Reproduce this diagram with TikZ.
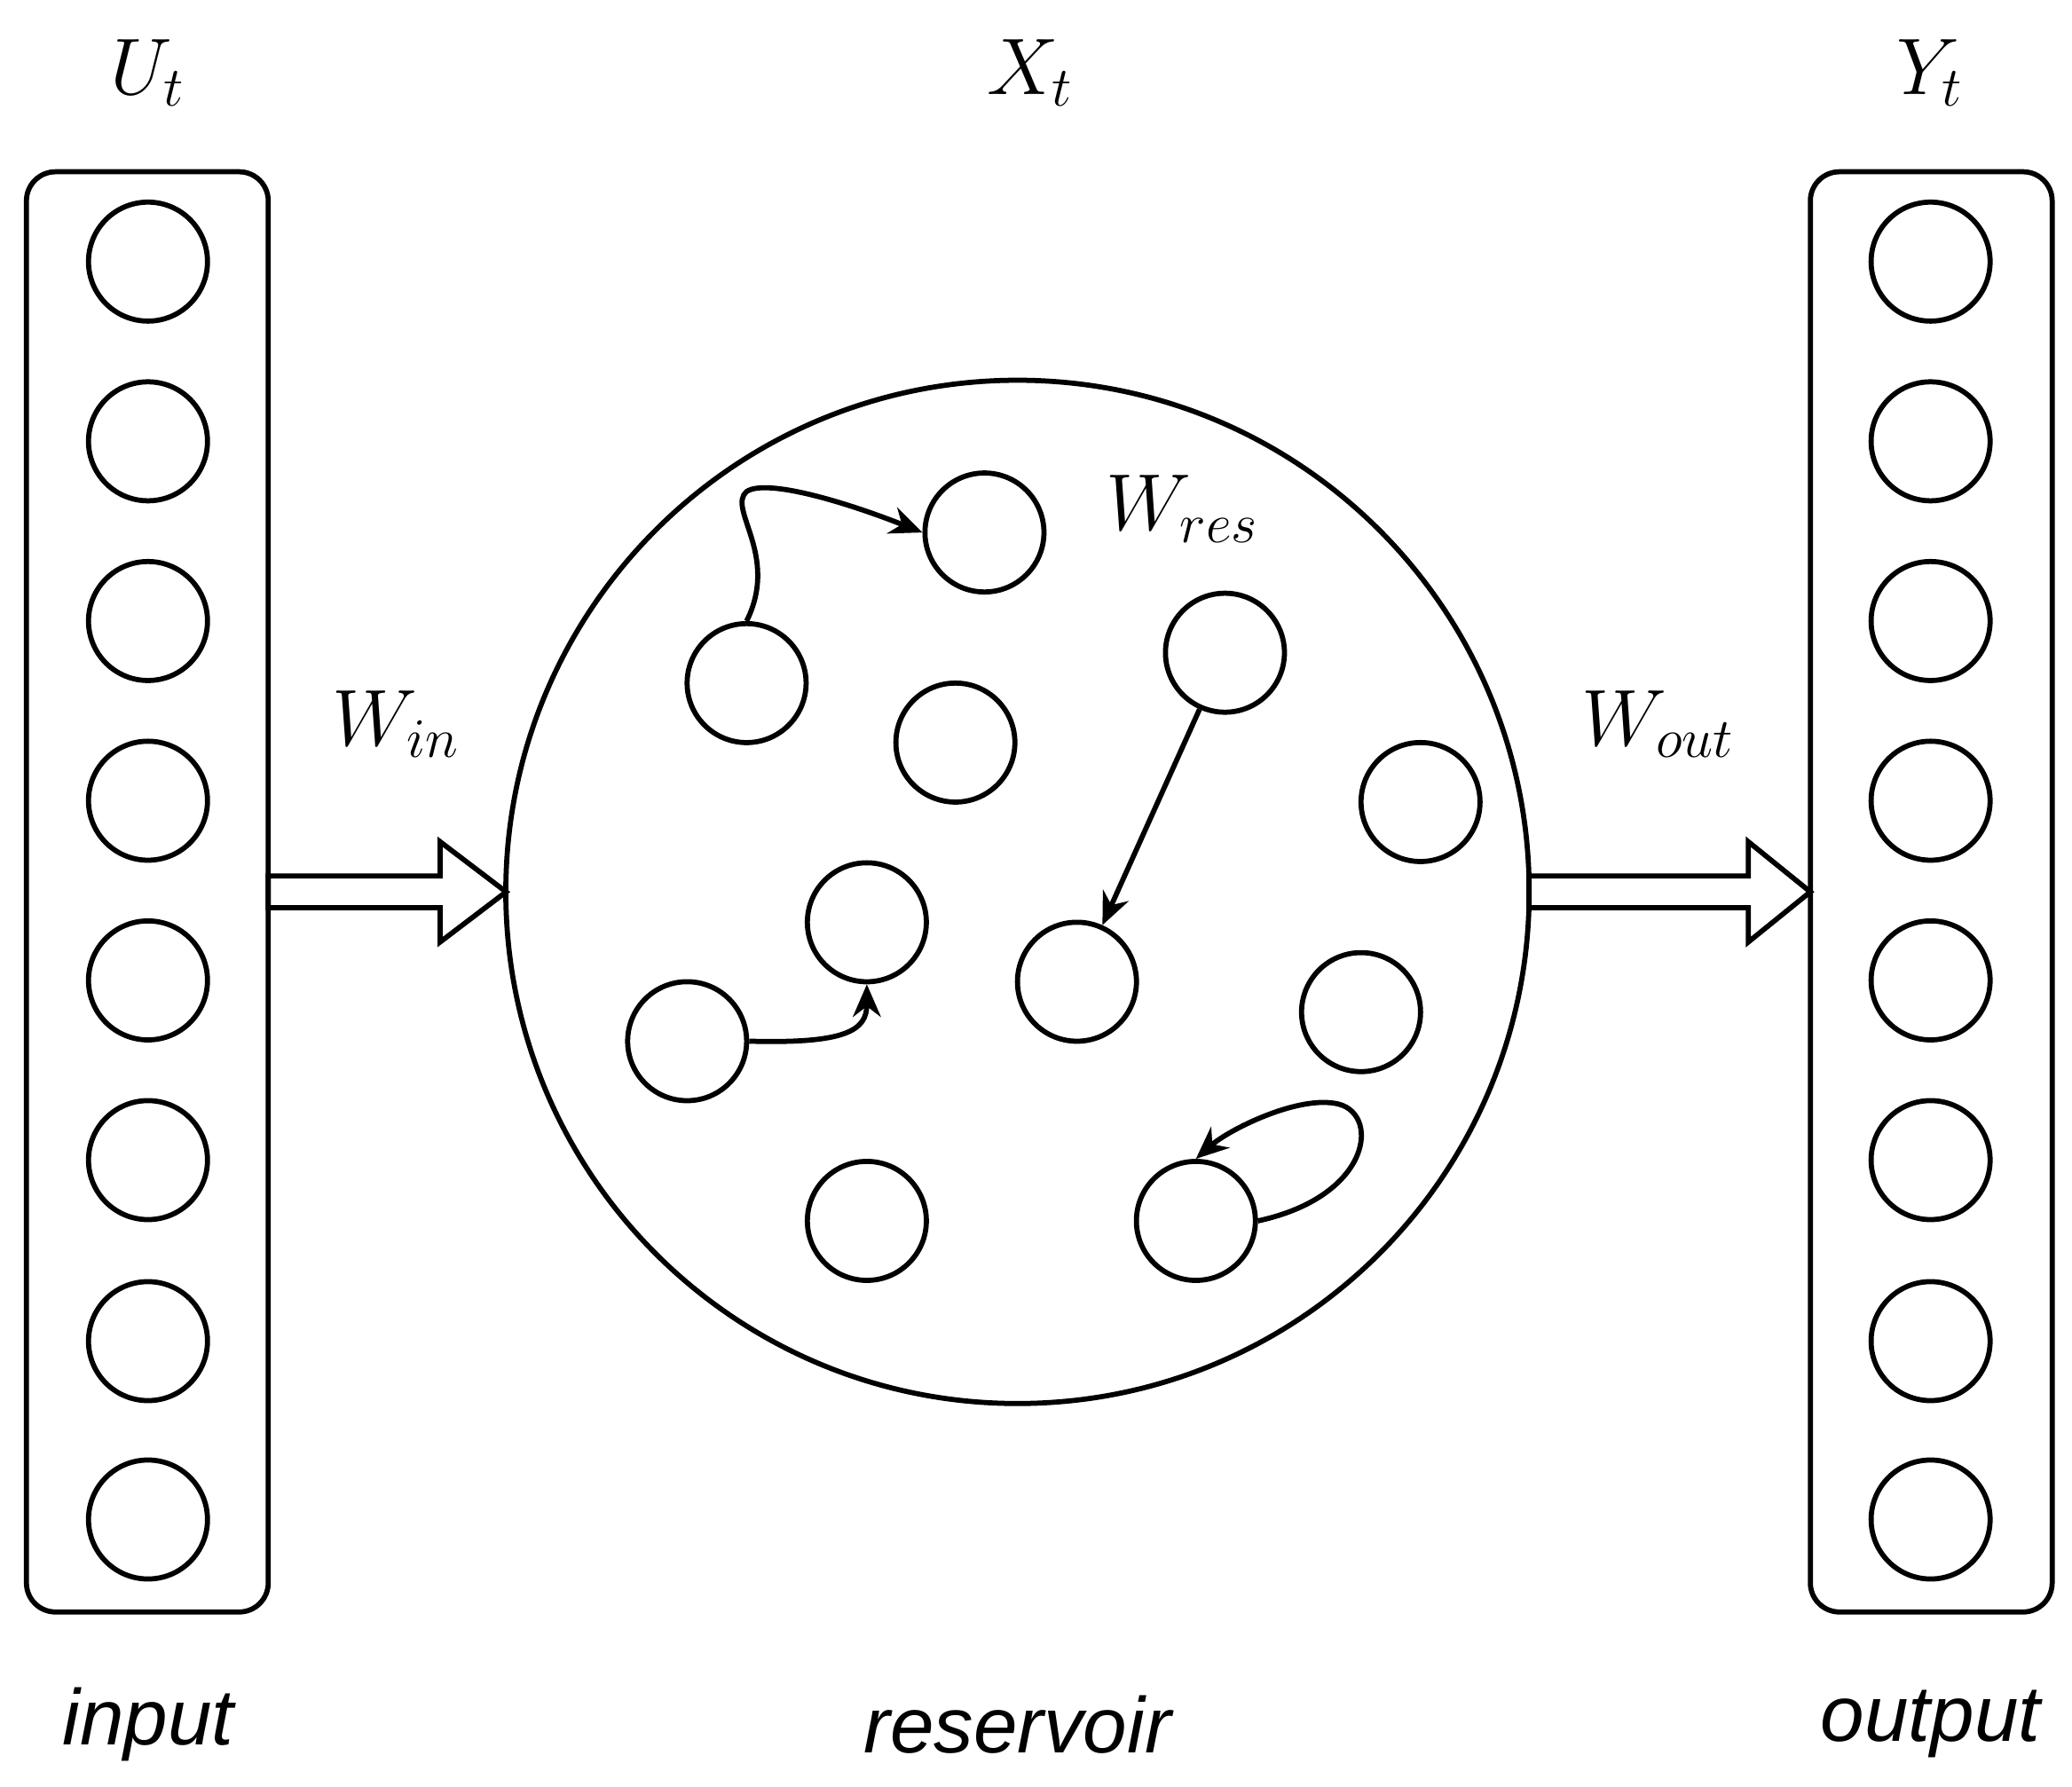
\documentclass[tikz,border=0pt]{standalone}
\usepackage{fontspec}
\newfontfamily\lab{Liberation Sans}
\usetikzlibrary{arrows.meta}
\begin{document}
\begin{tikzpicture}[x=0.01cm,y=-0.01cm,line width=1.1pt,
  neu/.style={circle,draw,minimum size=0.9cm,inner sep=0pt},
  box/.style={draw,rounded corners=0.22cm},
  mlab/.style={font=\fontsize{18}{22}\selectfont},
  tlab/.style={font=\lab\itshape\fontsize{17}{20}\selectfont},
  arr/.style={-{Stealth[length=7pt,width=6pt]}}]
\useasboundingbox (0,0) rectangle (1568,1352);
\draw[box] (20,130) rectangle (203,1220);
\draw[box] (1370,130) rectangle (1553,1220);
\foreach \i/\y in {1/198,2/334,3/470,4/606,5/742,6/878,7/1015,8/1150}{
  \node[neu] (u\i) at (112,\y) {};
  \node[neu] (y\i) at (1461,\y) {};
}
\node[circle,draw,minimum size=7.74cm,inner sep=0pt] (res) at (770,675) {};
\node[neu] (a) at (565,517) {};
\node[neu] (b) at (745,403) {};
\node[neu] (c) at (723,562) {};
\node[neu] (d) at (927,494) {};
\node[neu] (e) at (1075,607) {};
\node[neu] (f) at (656,698) {};
\node[neu] (g) at (815,743) {};
\node[neu] (h) at (520,788) {};
\node[neu] (i) at (1030,766) {};
\node[neu] (j) at (656,924) {};
\node[neu] (k) at (905,924) {};
\node[mlab] at (112,55) {$U_t$};
\node[mlab] at (780,55) {$X_t$};
\node[mlab] at (1461,55) {$Y_t$};
\node[mlab] at (300,548) {$W_{in}$};
\node[mlab] at (895,385) {$W_{res}$};
\node[mlab] at (1255,548) {$W_{out}$};
\node[tlab] at (112,1305) {input};
\node[tlab] at (770,1305) {reservoir};
\node[tlab] at (1461,1305) {output};
% hollow arrows
\draw (203,663) -- (333,663) -- (333,637) -- (383,675) -- (333,713) -- (333,687) -- (203,687) -- cycle;
\draw (1157,663) -- (1323,663) -- (1323,637) -- (1370,675) -- (1323,713) -- (1323,687) -- (1157,687) -- cycle;
% internal connections
\draw[arr] (a.north) .. controls (590,420) and (550,385) .. (565,372) .. controls (580,362) and (640,380) .. (b.west);
\draw[arr] (d) -- (g);
\draw[arr] (h.east) .. controls (640,790) and (656,780) .. (f.south);
\draw[arr] (k.east) .. controls (1040,905) and (1045,840) .. (1010,835) .. controls (980,830) and (930,855) .. (k.north);
\end{tikzpicture}
\end{document}
